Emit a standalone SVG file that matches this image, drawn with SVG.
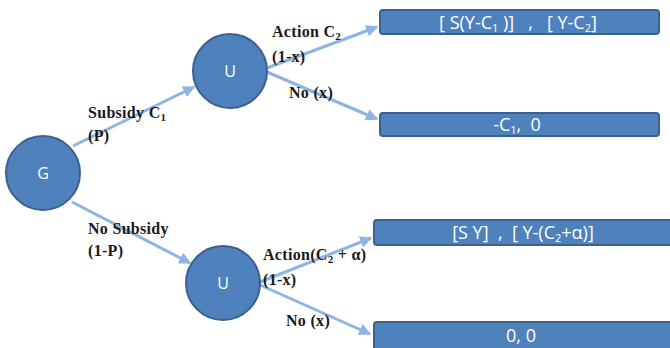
<svg xmlns="http://www.w3.org/2000/svg" width="670" height="348" viewBox="0 0 670 348">
<defs>
<marker id="arr" viewBox="0 0 10 10" refX="9" refY="5" markerWidth="4" markerHeight="4" orient="auto" markerUnits="strokeWidth">
<path d="M0,0 L10,5 L0,10 z" fill="#8eb4e3"/>
</marker>
<style>
.node{fill:#4f81bd;stroke:#3a6190;stroke-width:2}
.box{fill:#4f81bd;stroke:#3a6190;stroke-width:2}
.nt{font-family:"Open Sans","Liberation Sans",sans-serif;font-size:16px;fill:#ffffff;text-anchor:middle}
.bt{font-family:"Open Sans","Liberation Sans",sans-serif;font-size:18px;fill:#ffffff;text-anchor:middle;white-space:pre}
.lbl{font-family:"Liberation Serif",serif;font-size:16px;font-weight:bold;fill:#1a1a1a;letter-spacing:0.3px}
.sub{font-size:11px}
.edge{stroke:#8eb4e3;stroke-width:3;fill:none;marker-end:url(#arr)}
</style>
</defs>
<rect width="670" height="348" fill="#ffffff"/>
<g id="connectors">
<line class="edge" x1="73" y1="146" x2="194" y2="87"/>
<line class="edge" x1="72" y1="202" x2="190" y2="263"/>
<line class="edge" x1="267" y1="68" x2="377" y2="27"/>
<line class="edge" x1="267" y1="72" x2="377" y2="119"/>
<line class="edge" x1="260" y1="282" x2="371" y2="238"/>
<line class="edge" x1="260" y1="285" x2="370" y2="334"/>
</g>
<g id="labels">
<text class="lbl" x="88" y="118">Subsidy C<tspan class="sub" dy="3">1</tspan></text>
<text class="lbl" x="88" y="141">(P)</text>
<text class="lbl" x="88" y="234">No Subsidy</text>
<text class="lbl" x="88" y="256">(1-P)</text>
<text class="lbl" x="272" y="37">Action C<tspan class="sub" dy="3">2</tspan></text>
<text class="lbl" x="272" y="62">(1-x)</text>
<text class="lbl" x="289" y="98">No (x)</text>
<text class="lbl" x="263" y="260">Action(C<tspan class="sub" dy="3">2</tspan><tspan dy="-3"> + α)</tspan></text>
<text class="lbl" x="263" y="285">(1-x)</text>
<text class="lbl" x="286" y="326">No (x)</text>
</g>
<g id="node-G">
<circle class="node" cx="43" cy="173" r="37"/>
<text class="nt" x="43" y="179">G</text>
</g>
<g id="node-U1">
<circle class="node" cx="230" cy="71" r="37"/>
<text class="nt" x="230" y="77">U</text>
</g>
<g id="node-U2">
<circle class="node" cx="223" cy="283" r="37"/>
<text class="nt" x="223" y="289">U</text>
</g>
<g id="box-1">
<rect class="box" x="380" y="10" width="279" height="24" rx="3"/>
<text class="bt" x="518" y="29" xml:space="preserve">[ S(Y-C<tspan class="sub" dy="3">1</tspan><tspan dy="-3"> )]   ,   [ Y-C</tspan><tspan class="sub" dy="3">2</tspan><tspan dy="-3">]</tspan></text>
</g>
<g id="box-2">
<rect class="box" x="380" y="113" width="279" height="23" rx="3"/>
<text class="bt" x="517" y="131" xml:space="preserve">-C<tspan class="sub" dy="3">1</tspan><tspan dy="-3">,  0</tspan></text>
</g>
<g id="box-3">
<rect class="box" x="374" y="220" width="310" height="25" rx="3"/>
<text class="bt" x="523" y="239" xml:space="preserve">[S Y]  ,  [ Y-(C<tspan class="sub" dy="3">2</tspan><tspan dy="-3">+α)]</tspan></text>
</g>
<g id="box-4">
<rect class="box" x="374" y="322" width="310" height="30" rx="3"/>
<text class="bt" x="521" y="342">0, 0</text>
</g>
</svg>
